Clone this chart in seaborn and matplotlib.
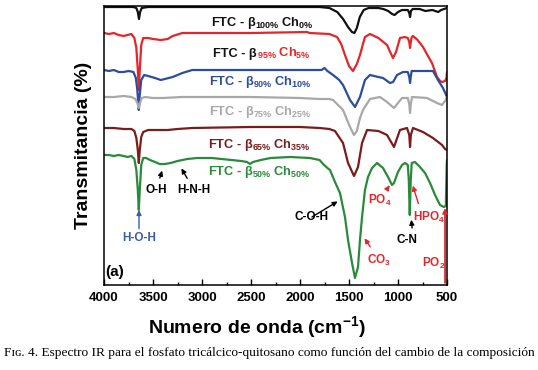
import matplotlib
matplotlib.use("Agg")
import matplotlib.pyplot as plt
from matplotlib.transforms import IdentityTransform
import pandas as pd
import seaborn as sns

# IR spectra, wavenumber (cm-1) and offset transmittance (a.u.)
wn_100 = [4000, 3800, 3700, 3670, 3655, 3643, 3632, 3615, 3550, 2500, 1800, 1700, 1620, 1560,
          1510, 1470, 1445, 1420, 1390, 1350, 1300, 1200, 1150, 1100, 1060, 1035, 1000, 960,
          900, 885, 877, 868, 850, 780, 720, 650, 590, 560, 500]
t_100 = [278, 278, 278, 277, 273, 266, 273, 277, 278, 278, 278, 277, 273, 266,
         258, 253, 252, 257, 268, 275, 277, 277, 276, 274, 271, 270, 273, 275,
         275, 272, 268, 274, 276, 276, 274, 275, 273, 275, 277]

wn_95 = [4000, 3950, 3900, 3850, 3800, 3760, 3720, 3690, 3670, 3655, 3645, 3635, 3620, 3600,
         3550, 3500, 3420, 3350, 3300, 3200, 2500, 1930, 1900, 1700, 1622, 1580, 1541, 1500,
         1459, 1420, 1388, 1360, 1337, 1286, 1200, 1112, 1080, 1051, 1020, 980, 930, 900,
         885, 877, 869, 860, 847, 800, 745, 700, 653, 602, 570, 551, 520, 505, 500]
t_95 = [252, 251, 252, 250, 249, 250, 251, 247, 237, 215, 195, 215, 240, 247,
        247, 246, 245, 246, 249, 252, 252, 253, 252, 251, 248, 241, 230, 219,
        214, 221, 230, 240, 248, 251, 247, 240, 233, 227, 233, 247, 248, 247,
        243, 237, 243, 248, 249, 245, 238, 230, 222, 208, 204, 203, 204, 207, 213]

wn_90 = [4000, 3950, 3900, 3850, 3800, 3750, 3700, 3675, 3660, 3645, 3635, 3620, 3590, 3550,
         3480, 3420, 3380, 3300, 3200, 3100, 2500, 2000, 1780, 1750, 1720, 1663, 1600, 1561,
         1490, 1439, 1388, 1337, 1286, 1200, 1153, 1082, 1050, 1010, 949, 900, 885, 877,
         869, 860, 800, 700, 643, 592, 541, 500]
t_90 = [215, 214, 215, 213, 213, 214, 213, 207, 195, 175, 190, 205, 210, 209,
        207, 205, 206, 208, 212, 215, 215, 215, 215, 217, 214, 210, 205, 200,
        185, 178, 188, 205, 210, 208, 207, 202, 203, 210, 213, 213, 208, 202,
        209, 214, 214, 214, 214, 205, 197, 188]

wn_75 = [4000, 3900, 3800, 3720, 3680, 3660, 3645, 3632, 3615, 3580, 3500, 3400, 3200, 3000,
         2500, 2000, 1800, 1700, 1663, 1561, 1490, 1449, 1420, 1388, 1357, 1286, 1184, 1112,
         1041, 959, 900, 885, 877, 869, 857, 704, 602, 551, 520, 500]
t_75 = [188, 188, 189, 188, 186, 182, 177, 182, 187, 188, 187, 187, 188, 188,
        188, 187, 186, 186, 185, 175, 158, 150, 154, 167, 175, 186, 188, 183,
        177, 187, 187, 181, 172, 181, 188, 187, 182, 180, 184, 188]

wn_65 = [4000, 3900, 3800, 3720, 3690, 3670, 3655, 3645, 3635, 3620, 3600, 3550, 3450, 3350,
         3250, 3100, 2500, 2000, 1800, 1700, 1643, 1561, 1510, 1449, 1408, 1367, 1316, 1200,
         1112, 1041, 980, 908, 885, 877, 869, 847, 745, 643, 551, 520, 500]
t_65 = [157, 157, 156, 156, 154, 147, 135, 122, 135, 148, 153, 155, 155, 155,
        156, 157, 158, 158, 157, 156, 154, 142, 122, 109, 118, 142, 155, 154,
        150, 138, 155, 157, 150, 138, 150, 157, 153, 147, 140, 136, 135]

wn_50 = [4000, 3950, 3900, 3850, 3800, 3760, 3720, 3690, 3670, 3655, 3645, 3635, 3620, 3600,
         3570, 3530, 3480, 3430, 3380, 3320, 3250, 3150, 3050, 2900, 2800, 2600, 2540, 2510,
         2480, 2400, 2300, 2100, 1900, 1800, 1765, 1720, 1694, 1643, 1592, 1541, 1510, 1469,
         1439, 1408, 1388, 1367, 1337, 1306, 1265, 1214, 1153, 1102, 1061, 1041, 1000, 959,
         929, 900, 890, 880, 870, 860, 827, 776, 724, 673, 622, 571, 531, 512, 503, 500]
t_50 = [130, 130, 129, 130, 129, 128, 129, 126, 115, 95, 75, 95, 120, 127,
        127, 125, 123, 121, 121, 122, 124, 126, 127, 127, 126, 124, 123, 121,
        123, 125, 127, 128, 127, 125, 121, 117, 115, 103, 92, 68, 45, 22,
        7, 18, 45, 68, 95, 108, 117, 122, 117, 108, 100, 102, 113, 120,
        122, 120, 105, 70, 105, 122, 123, 118, 112, 102, 90, 80, 78, 79, 120, 125]

series = [
    (wn_100, t_100, "#111111"),
    (wn_95, t_95, "#e2262b"),
    (wn_90, t_90, "#2c4c9c"),
    (wn_75, t_75, "#a8a8a8"),
    (wn_65, t_65, "#7a1c1c"),
    (wn_50, t_50, "#2a8a3b"),
]

sns.set_theme(style="ticks")
plt.rcParams["font.family"] = ["Liberation Sans", "DejaVu Sans"]
plt.rcParams["mathtext.fontset"] = "custom"
plt.rcParams["mathtext.rm"] = "Liberation Sans:bold"
plt.rcParams["mathtext.bf"] = "Liberation Sans:bold"
plt.rcParams["mathtext.default"] = "bf"

fig = plt.figure(figsize=(5.38, 3.70), dpi=100)
ax = fig.add_axes([104 / 538, 1 - 285 / 370, 343 / 538, 279 / 370])

for wn, t, c in series:
    df = pd.DataFrame({"wn": wn, "t": t})
    sns.lineplot(data=df, x="wn", y="t", color=c, lw=1.6, estimator=None, ax=ax)

ax.set_xlim(4000, 500)
ax.set_ylim(0, 279)
ax.set_xticks([4000, 3500, 3000, 2500, 2000, 1500, 1000, 500])
ax.set_xticks(range(750, 4000, 500), minor=True)
ax.set_yticks([])
ax.tick_params(axis="x", which="both", direction="in", colors="black", labelsize=9.5, pad=5)
ax.tick_params(axis="x", which="major", length=4, width=1)
ax.tick_params(axis="x", which="minor", length=2.5, width=1)
for lbl in ax.get_xticklabels():
    lbl.set_fontweight("bold")
for sp in ax.spines.values():
    sp.set_color("black")
    sp.set_linewidth(1.1)

ax.set_xlabel(r"Numero de onda (cm$^{\mathregular{-1}}$)", fontsize=14, fontweight="bold", color="black")
ax.set_ylabel("Transmitancia (%)", fontsize=14, fontweight="bold", color="black")
ax.xaxis.set_label_coords(0.445, -0.105)
ax.yaxis.set_label_coords(-0.035, 0.5)

# series labels
lab_kw = dict(fontsize=9.2, fontweight="bold", va="baseline", ha="left")
ax.text(2908, 259, r"FTC - β$_{100\%}$ Ch$_{0\%}$", color="#111111", **lab_kw)
first = ax.text(2888, 228, "FTC - β", color="#111111", **lab_kw)
ax.text(2929, 200, r"FTC - β$_{90\%}$ Ch$_{10\%}$", color="#2c4c9c", **lab_kw)
ax.text(2929, 170, r"FTC - β$_{75\%}$ Ch$_{25\%}$", color="#a8a8a8", **lab_kw)
ax.text(2939, 137, r"FTC - β$_{65\%}$ Ch$_{35\%}$", color="#7a1c1c", **lab_kw)
ax.text(2939, 110, r"FTC - β$_{50\%}$ Ch$_{50\%}$", color="#2a8a3b", **lab_kw)

renderer = fig.canvas.get_renderer()
bb = first.get_window_extent(renderer)
y0 = ax.transData.transform((2888, 228))[1]
fig.text(bb.x1, y0, r"$_{95\%}$ Ch$_{5\%}$", transform=IdentityTransform(),
         color="#e2262b", fontsize=9.2, fontweight="bold", ha="left", va="baseline")

# band assignments
red = "#e2262b"
ann_kw = dict(fontsize=8.5, fontweight="bold", ha="center", va="center")
ax.annotate("H-O-H", xy=(3643, 75), xytext=(3643, 47), color="#3a5cb0",
            arrowprops=dict(arrowstyle="-|>", color="#3a5cb0", lw=1, mutation_scale=7,
                            shrinkA=0, shrinkB=0), **ann_kw)
ax.annotate("O-H", xy=(3398, 117), xytext=(3469, 95), color="black",
            arrowprops=dict(arrowstyle="-|>", color="black", lw=1, mutation_scale=7), **ann_kw)
ax.annotate("H-N-H", xy=(3224, 119), xytext=(3082, 95), color="black",
            arrowprops=dict(arrowstyle="-|>", color="black", lw=1, mutation_scale=7), **ann_kw)
ax.annotate("C-O-H", xy=(1592, 85), xytext=(1878, 68), color="black",
            arrowprops=dict(arrowstyle="-|>", color="black", lw=1, mutation_scale=7,
                            patchA=None, shrinkA=0), **ann_kw)
ax.annotate("CO$_3$", xy=(1357, 49), xytext=(1194, 25), color=red,
            arrowprops=dict(arrowstyle="-|>", color=red, lw=1, mutation_scale=7), **ann_kw)
ax.annotate("PO$_4$", xy=(1071, 102), xytext=(1184, 85), color=red,
            arrowprops=dict(arrowstyle="-|>", color=red, lw=1, mutation_scale=7), **ann_kw)
ax.annotate("C-N", xy=(867, 68), xytext=(908, 45), color="black",
            arrowprops=dict(arrowstyle="-|>", color="black", lw=1, mutation_scale=7,
                            relpos=(0.8, 0.5)), **ann_kw)
ax.annotate("HPO$_4$", xy=(857, 102), xytext=(684, 68), color=red,
            arrowprops=dict(arrowstyle="-|>", color=red, lw=1, mutation_scale=7,
                            relpos=(0.3, 0.5)), **ann_kw)
ax.annotate("", xy=(520, 77), xytext=(520, 2),
            arrowprops=dict(arrowstyle="-|>", color=red, lw=1.3, mutation_scale=7,
                            shrinkA=0, shrinkB=0))
ax.text(633, 22, "PO$_2$", color=red, **ann_kw)
ax.text(3888, 13, "(a)", fontsize=11, fontweight="bold", ha="center", va="center", color="black")

fig.text(0.5, 0.046,
         "Fɪɢ. 4. Espectro IR para el fosfato tricálcico-quitosano como función del cambio de la composición",
         family=["Liberation Serif", "DejaVu Serif"], fontsize=9.6, ha="center", va="center",
         color="black")

fig.savefig("out.png", dpi=100)
